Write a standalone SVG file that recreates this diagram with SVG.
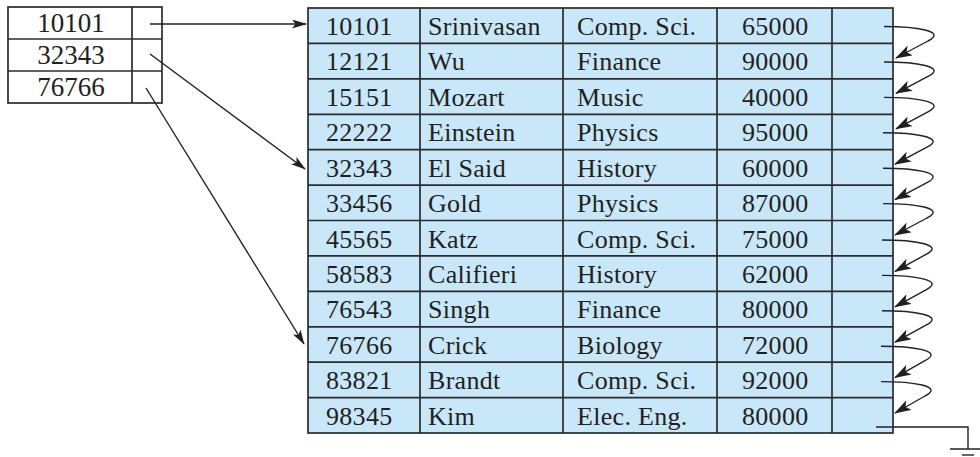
<svg xmlns="http://www.w3.org/2000/svg" width="980" height="457" viewBox="0 0 980 457">
<defs>
<style>
.t{font-family:"Liberation Serif","Times New Roman",serif;font-size:26px;fill:#231f20;letter-spacing:0.3px}
.ti{font-family:"Liberation Serif","Times New Roman",serif;font-size:27px;fill:#231f20;text-anchor:middle}
.g{stroke:#2b2b2b;stroke-width:1.7;fill:none}
.c{stroke:#222;stroke-width:1.4;fill:none}
</style>
<marker id="ah" viewBox="0 0 15 9" refX="14" refY="4.5" markerWidth="15" markerHeight="9" markerUnits="userSpaceOnUse" orient="auto">
<path d="M0,0 L15,4.5 L0,9 L3.5,4.5 z" fill="#231f20"/>
</marker>
<marker id="ah2" viewBox="0 0 17 11" refX="16" refY="5.5" markerWidth="17" markerHeight="11" markerUnits="userSpaceOnUse" orient="auto">
<path d="M0,0 L17,5.5 L0,11 L4,5.5 z" fill="#231f20"/>
</marker>
</defs>
<rect width="980" height="457" fill="#fff"/>

<g id="index">
<rect x="8" y="7" width="154" height="96" class="g" style="fill:#fff"/>
<line x1="132" y1="7" x2="132" y2="103" class="g"/>
<line x1="8" y1="39" x2="162" y2="39" class="g"/>
<line x1="8" y1="71" x2="162" y2="71" class="g"/>
<text class="ti" x="71" y="32">10101</text>
<text class="ti" x="71" y="64">32343</text>
<text class="ti" x="71" y="96">76766</text>
</g>

<g id="table">
<rect x="308" y="8" width="585" height="425" class="g" style="fill:#c8e7f9"/>
<g class="g">
<line x1="420" y1="8" x2="420" y2="433"/>
<line x1="563" y1="8" x2="563" y2="433"/>
<line x1="717" y1="8" x2="717" y2="433"/>
<line x1="832" y1="8" x2="832" y2="433"/>
<line x1="308" y1="43.4" x2="893" y2="43.4"/>
<line x1="308" y1="78.8" x2="893" y2="78.8"/>
<line x1="308" y1="114.3" x2="893" y2="114.3"/>
<line x1="308" y1="149.7" x2="893" y2="149.7"/>
<line x1="308" y1="185.1" x2="893" y2="185.1"/>
<line x1="308" y1="220.5" x2="893" y2="220.5"/>
<line x1="308" y1="255.9" x2="893" y2="255.9"/>
<line x1="308" y1="291.4" x2="893" y2="291.4"/>
<line x1="308" y1="326.8" x2="893" y2="326.8"/>
<line x1="308" y1="362.2" x2="893" y2="362.2"/>
<line x1="308" y1="397.6" x2="893" y2="397.6"/>
</g>
</g>

<g id="row1"><text class="t" x="326" y="35">10101</text><text class="t" x="428" y="35">Srinivasan</text><text class="t" x="577" y="35">Comp. Sci.</text><text class="t" x="742" y="35">65000</text></g>
<g id="row2"><text class="t" x="326" y="70.4">12121</text><text class="t" x="428" y="70.4">Wu</text><text class="t" x="577" y="70.4">Finance</text><text class="t" x="742" y="70.4">90000</text></g>
<g id="row3"><text class="t" x="326" y="105.8">15151</text><text class="t" x="428" y="105.8">Mozart</text><text class="t" x="577" y="105.8">Music</text><text class="t" x="742" y="105.8">40000</text></g>
<g id="row4"><text class="t" x="326" y="141.3">22222</text><text class="t" x="428" y="141.3">Einstein</text><text class="t" x="577" y="141.3">Physics</text><text class="t" x="742" y="141.3">95000</text></g>
<g id="row5"><text class="t" x="326" y="176.7">32343</text><text class="t" x="428" y="176.7">El Said</text><text class="t" x="577" y="176.7">History</text><text class="t" x="742" y="176.7">60000</text></g>
<g id="row6"><text class="t" x="326" y="212.1">33456</text><text class="t" x="428" y="212.1">Gold</text><text class="t" x="577" y="212.1">Physics</text><text class="t" x="742" y="212.1">87000</text></g>
<g id="row7"><text class="t" x="326" y="247.5">45565</text><text class="t" x="428" y="247.5">Katz</text><text class="t" x="577" y="247.5">Comp. Sci.</text><text class="t" x="742" y="247.5">75000</text></g>
<g id="row8"><text class="t" x="326" y="282.9">58583</text><text class="t" x="428" y="282.9">Califieri</text><text class="t" x="577" y="282.9">History</text><text class="t" x="742" y="282.9">62000</text></g>
<g id="row9"><text class="t" x="326" y="318.4">76543</text><text class="t" x="428" y="318.4">Singh</text><text class="t" x="577" y="318.4">Finance</text><text class="t" x="742" y="318.4">80000</text></g>
<g id="row10"><text class="t" x="326" y="353.8">76766</text><text class="t" x="428" y="353.8">Crick</text><text class="t" x="577" y="353.8">Biology</text><text class="t" x="742" y="353.8">72000</text></g>
<g id="row11"><text class="t" x="326" y="389.2">83821</text><text class="t" x="428" y="389.2">Brandt</text><text class="t" x="577" y="389.2">Comp. Sci.</text><text class="t" x="742" y="389.2">92000</text></g>
<g id="row12"><text class="t" x="326" y="424.6">98345</text><text class="t" x="428" y="424.6">Kim</text><text class="t" x="577" y="424.6">Elec. Eng.</text><text class="t" x="742" y="424.6">80000</text></g>

<g id="connectors" class="c">
<line x1="150" y1="24" x2="306" y2="24" marker-end="url(#ah)"/>
<line x1="150" y1="54" x2="305" y2="169" marker-end="url(#ah)"/>
<line x1="146" y1="88" x2="304" y2="344" marker-end="url(#ah)"/>
<path d="M884,26.5 C915,26.5 948,31 928,41 L896,58" marker-end="url(#ah2)"/>
<path d="M884,62 C915,62 948,66.4 928,76.4 L896,93.4" marker-end="url(#ah2)"/>
<path d="M884,97.4 C915,97.4 948,101.8 928,111.8 L896,128.8" marker-end="url(#ah2)"/>
<path d="M883,132.8 C914,132.8 947,137.2 927,147.2 L895,164.2" marker-end="url(#ah2)"/>
<path d="M883,168.2 C914,168.2 947,172.6 927,182.6 L895,199.6" marker-end="url(#ah2)"/>
<path d="M883,203.6 C914,203.6 947,208 927,218 L895,235" marker-end="url(#ah2)"/>
<path d="M882,240 C913,240 946,244.4 926,254.4 L895,271.4" marker-end="url(#ah2)"/>
<path d="M882,275.4 C913,275.4 946,279.8 926,289.8 L895,306.8" marker-end="url(#ah2)"/>
<path d="M882,310.8 C913,310.8 946,315.2 926,325.2 L895,342.2" marker-end="url(#ah2)"/>
<path d="M881,346.2 C912,346.2 945,350.6 925,360.6 L895,377.6" marker-end="url(#ah2)"/>
<path d="M881,381.6 C912,381.6 945,386 925,396 L895,413" marker-end="url(#ah2)"/>
<path d="M876,427 L968,427 L968,449"/>
<line x1="950" y1="449" x2="986" y2="449"/>
<line x1="962" y1="455" x2="974" y2="455"/>
</g>
</svg>
